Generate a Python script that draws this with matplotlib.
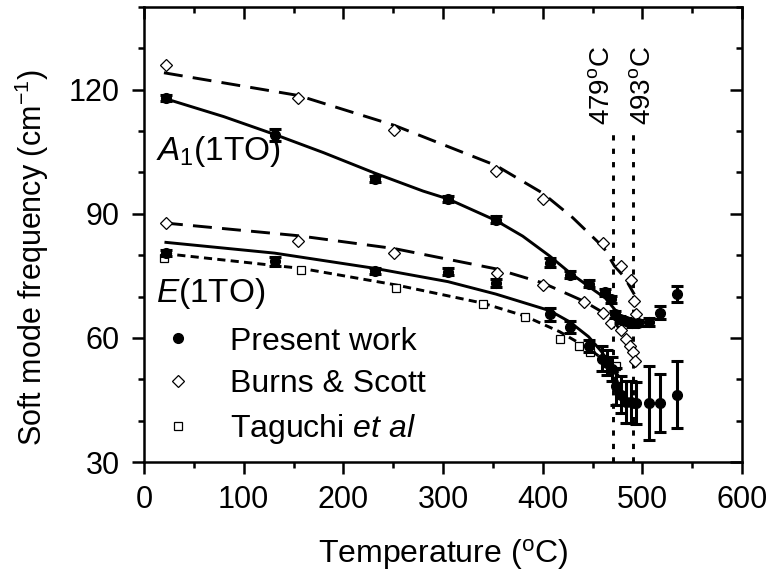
import numpy as np
import matplotlib
matplotlib.use("Agg")
import matplotlib.pyplot as plt
from matplotlib.lines import Line2D
from matplotlib.ticker import MultipleLocator

plt.rcParams['font.family'] = ['Liberation Sans', 'DejaVu Sans']
plt.rcParams['mathtext.fontset'] = 'custom'
plt.rcParams['mathtext.rm'] = 'Liberation Sans'
plt.rcParams['mathtext.it'] = 'Liberation Sans:italic'

# Present work, A1(1TO) branch
t_a1 = [22, 131, 232, 305, 353, 407, 427, 446, 463, 469, 473, 478, 484, 490, 496, 507, 518, 535]
f_a1 = [118.0, 109.0, 98.4, 93.6, 88.6, 78.2, 75.3, 73.1, 71.0, 69.3, 65.7, 64.5, 64.1, 63.5, 63.6, 63.8, 66.1, 70.6]
e_a1 = [0.8, 1.5, 0.8, 0.7, 0.8, 1.0, 0.8, 0.8, 0.8, 0.8, 0.8, 0.8, 0.8, 0.8, 0.8, 1.0, 1.5, 2.0]

# Present work, E(1TO) branch
t_e = [22, 131, 232, 305, 353, 407, 427, 446, 460, 465, 470, 474, 479, 484, 489, 494, 507, 518, 535]
f_e = [80.5, 78.5, 76.2, 76.0, 73.3, 65.7, 62.7, 58.0, 55.0, 54.0, 52.5, 48.3, 46.3, 44.5, 44.5, 44.3, 44.3, 44.3, 46.3]
e_e = [0.8, 1.0, 0.8, 0.8, 1.0, 1.5, 1.5, 1.5, 3.0, 3.0, 3.0, 4.5, 4.5, 5.0, 5.0, 5.0, 9.0, 7.0, 8.0]

# Burns & Scott
t_bs_a1 = [22, 155, 251, 353, 400, 461, 479, 489, 492, 494]
f_bs_a1 = [126.0, 117.9, 110.3, 100.4, 93.6, 83.0, 77.4, 74.1, 69.0, 65.7]
t_bs_e = [22, 155, 251, 354, 400, 441, 461, 469, 479, 484, 488, 491, 493]
f_bs_e = [87.9, 83.4, 80.5, 75.6, 72.9, 68.8, 66.1, 63.6, 61.8, 59.8, 58.0, 56.7, 54.4]

# Taguchi et al
t_tg = [20, 158, 253, 340, 382, 417, 436, 447, 474]
f_tg = [79.2, 76.5, 72.0, 68.1, 65.0, 59.8, 58.0, 56.7, 53.1]

# fitted curves
fit_a1_t = [22, 80, 131, 180, 232, 280, 305, 353, 380, 407, 427, 447, 463, 476]
fit_a1_f = [117.8, 113.5, 109.2, 104.8, 99.8, 95.5, 93.6, 88.4, 84.6, 79.8, 75.8, 72.3, 69.6, 65.8]
fit_e_t = [22, 131, 232, 305, 353, 407, 427, 446, 459, 469, 476]
fit_e_f = [83.1, 80.5, 76.8, 73.6, 70.6, 66.6, 63.9, 60.3, 56.7, 53.1, 50.8]
fit_bs_a1_t = [20, 155, 251, 353, 400, 430, 461, 472, 482, 492]
fit_bs_a1_f = [124.1, 118.6, 111.4, 101.7, 95.0, 89.1, 81.9, 77.4, 74.7, 70.5]
fit_bs_e_t = [20, 155, 251, 353, 400, 441, 461, 472, 480]
fit_bs_e_f = [87.8, 84.7, 81.6, 76.7, 73.3, 68.9, 66.1, 63.6, 61.5]
fit_tg_t = [20, 158, 253, 340, 382, 417, 447, 465, 476]
fit_tg_f = [80.4, 76.8, 72.8, 68.4, 65.3, 61.5, 57.3, 54.0, 51.5]

tc_lines = [471, 491]
tc_labels = ['479$^{\\mathrm{o}}$C', '493$^{\\mathrm{o}}$C']

fig = plt.figure(figsize=(7.68, 5.84), dpi=100)
ax = fig.add_axes([144 / 768, 1 - 462 / 584, 598 / 768, 455 / 584])

lw = 2.1
ax.plot(fit_a1_t, fit_a1_f, color='black', lw=lw)
ax.plot(fit_e_t, fit_e_f, color='black', lw=lw)
ax.plot(fit_bs_a1_t, fit_bs_a1_f, color='black', lw=lw, dashes=(6.5, 3.5))
ax.plot(fit_bs_e_t, fit_bs_e_f, color='black', lw=lw, dashes=(6.5, 3.5))
ax.plot(fit_tg_t, fit_tg_f, color='black', lw=lw, dashes=(2.8, 1.8))

for t in tc_lines:
    ax.plot([t, t], [30, 111], color='black', lw=lw, dashes=(1.8, 2.8))

ax.plot(t_bs_a1, f_bs_a1, 'D', ms=6.5, mfc='white', mec='black', mew=0.9, zorder=4)
ax.plot(t_bs_e, f_bs_e, 'D', ms=6.5, mfc='white', mec='black', mew=0.9, zorder=4)
ax.plot(t_tg, f_tg, 's', ms=6, mfc='white', mec='black', mew=0.9, zorder=4)

for t, f, e in [(t_a1, f_a1, e_a1), (t_e, f_e, e_e)]:
    ax.errorbar(t, f, yerr=e, fmt='o', color='black', ms=7, elinewidth=2.2,
                capsize=4.5, capthick=2.2, zorder=5)

ax.text(460, 111.5, tc_labels[0], rotation=90, ha='center', va='bottom', fontsize=20)
ax.text(501, 111.5, tc_labels[1], rotation=90, ha='center', va='bottom', fontsize=20)

ax.text(12, 103, '$\\mathit{A}_1$(1TO)', fontsize=24, va='baseline')
ax.text(12, 68.6, '$\\mathit{E}$(1TO)', fontsize=24, va='baseline')

handles = [
    Line2D([], [], ls='none', marker='o', ms=7, color='black'),
    Line2D([], [], ls='none', marker='D', ms=6.5, mfc='white', mec='black', mew=0.9),
    Line2D([], [], ls='none', marker='s', ms=6, mfc='white', mec='black', mew=0.9),
]
labels = ['Present work', 'Burns & Scott', 'Taguchi $\\mathit{et\\ al}$']
ax.legend(handles, labels, loc='lower left', bbox_to_anchor=(0.014, 0.035),
          frameon=False, fontsize=23, handlelength=1.6, handletextpad=0.83,
          labelspacing=0.4, borderpad=0, borderaxespad=0)

ax.set_xlim(0, 600)
ax.set_ylim(30, 140)
ax.xaxis.set_major_locator(MultipleLocator(100))
ax.xaxis.set_minor_locator(MultipleLocator(50))
ax.yaxis.set_minor_locator(MultipleLocator(10))
ax.set_yticks([30, 60, 90, 120])

ax.tick_params(which='both', direction='out', width=1.8, labelsize=22)
ax.tick_params(axis='y', pad=9)
ax.tick_params(axis='x', pad=8)
ax.tick_params(which='major', length=8.5)
ax.tick_params(which='minor', length=4.5)
for s in ax.spines.values():
    s.set_linewidth(1.8)

top = ax.secondary_xaxis('top')
top.xaxis.set_major_locator(MultipleLocator(100))
top.xaxis.set_minor_locator(MultipleLocator(50))
top.tick_params(which='both', direction='in', labeltop=False, width=1.8)
top.tick_params(which='major', length=8.5)
top.tick_params(which='minor', length=4.5)
right = ax.secondary_yaxis('right')
right.yaxis.set_major_locator(MultipleLocator(30))
right.yaxis.set_minor_locator(MultipleLocator(10))
right.tick_params(which='both', direction='in', labelright=False, width=1.8)
right.tick_params(which='major', length=8.5)
right.tick_params(which='minor', length=4.5)

ax.set_xlabel('Temperature ($^{\\mathrm{o}}$C)', fontsize=23)
ax.set_ylabel('Soft mode frequency (cm$^{-1}$)', fontsize=22)
ax.xaxis.set_label_coords(0.5, -0.165)
ax.yaxis.set_label_coords(-0.155, 0.45)

fig.savefig('out.png', dpi=100)
